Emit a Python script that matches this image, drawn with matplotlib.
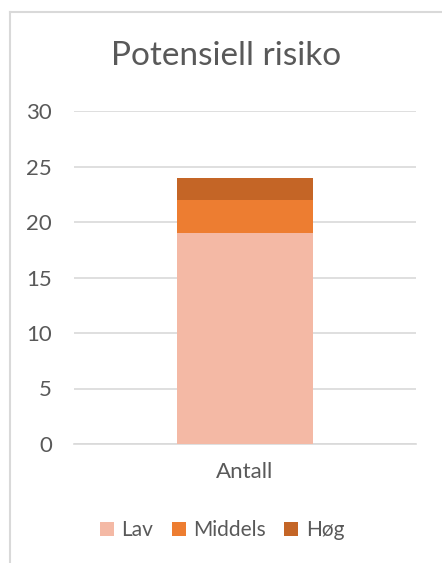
import matplotlib.pyplot as plt
import numpy as np

plt.rcParams['font.family'] = ['Lato', 'DejaVu Sans']

categories = ['Antall']
series = ['Lav', 'Middels', 'Høg']
values = [[19], [3], [2]]
colors = ['#F4B9A5', '#ED7D31', '#C46526']
yticks = [0, 5, 10, 15, 20, 25, 30]

fig = plt.figure(figsize=(4.42, 5.63), dpi=100)
ax = fig.add_axes([74 / 442, 1 - 444 / 563, 342 / 442, 333 / 563])

x = np.arange(len(categories))
bottom = np.zeros(len(categories))
handles = []
for name, vals, col in zip(series, values, colors):
    b = ax.bar(x, vals, 0.40, bottom=bottom, color=col, label=name, zorder=3)
    handles.append(b)
    bottom += np.array(vals)

ax.set_ylim(0, 30)
ax.set_xlim(-0.5, 0.5)
ax.set_yticks(yticks)
ax.set_xticks(x)
ax.set_xticklabels(categories)
ax.grid(axis='y', color='#D9D9D9', linewidth=1.2, zorder=0)
for s in ['top', 'right', 'left']:
    ax.spines[s].set_visible(False)
ax.spines['bottom'].set_color('#D9D9D9')
ax.spines['bottom'].set_linewidth(1.2)
ax.tick_params(length=0, labelsize=16, labelcolor='#595959')
ax.tick_params(axis='y', pad=16)
ax.tick_params(axis='x', pad=13)

fig.text(226 / 442, 1 - 56 / 563, 'Potensiell risiko', ha='center', va='center',
         fontsize=24, color='#595959')

fig.legend(handles=handles, loc='center', bbox_to_anchor=(222 / 442, 1 - 530 / 563),
           ncol=3, frameon=False, fontsize=15, labelcolor='#595959',
           handlelength=0.67, handleheight=0.67, handletextpad=0.35, columnspacing=0.9)

# chart border (left and top visible)
fig.add_artist(plt.Line2D([10 / 442, 10 / 442], [0, 1 - 12 / 563], color='#D9D9D9', linewidth=1.5))
fig.add_artist(plt.Line2D([10 / 442, 1], [1 - 12 / 563, 1 - 12 / 563], color='#D9D9D9', linewidth=1.5))

fig.savefig('out.png', dpi=100)
